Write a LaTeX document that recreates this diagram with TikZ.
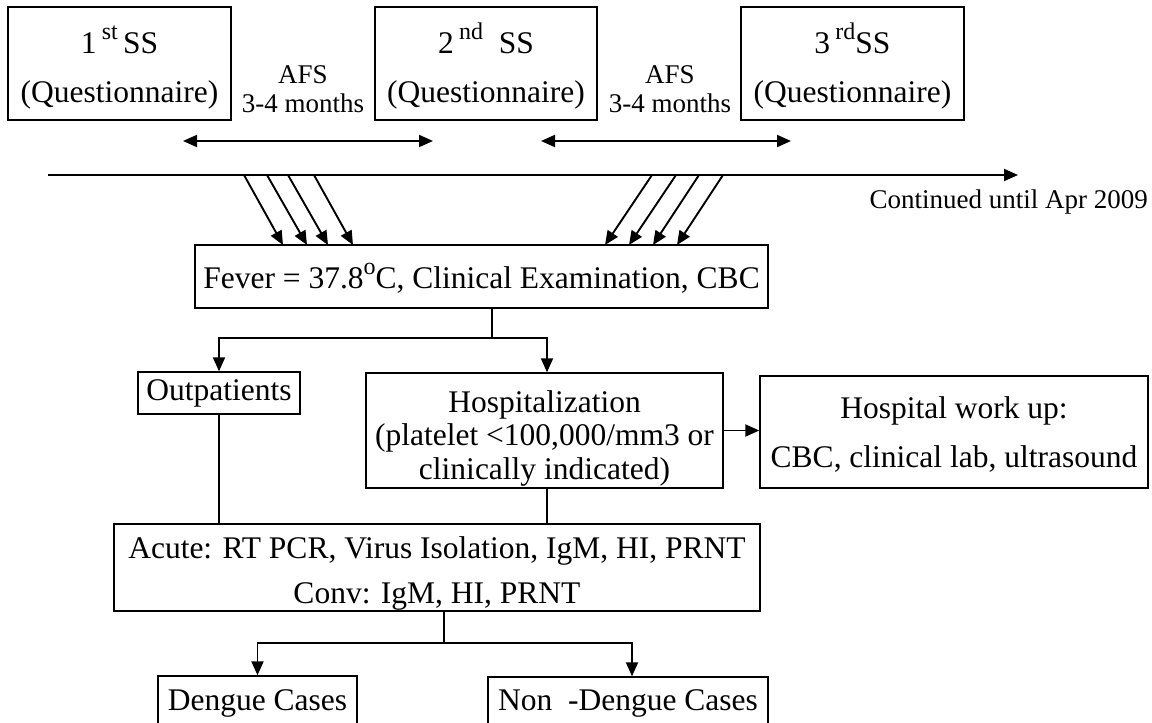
\documentclass[tikz,border=0pt]{standalone}
\usepackage{fontspec}
\setmainfont{Liberation Serif}
\usetikzlibrary{arrows.meta}
\newcommand\mysup[1]{\raisebox{14pt}{\fontsize{24}{24}\selectfont #1}}
\newcommand\tightlines{\lineskiplimit-100pt\relax}
\newcommand\strutHD[2]{\rule[-#2]{0pt}{\dimexpr#1+#2\relax}}
\begin{document}
\begin{tikzpicture}[x=1pt,y=-1pt,
  box/.style={draw,line width=1.4pt,align=center,inner sep=0pt,font=\fontsize{31.5}{49}\selectfont\tightlines},
  lab/.style={inner sep=0pt,font=\fontsize{27}{27}\selectfont},
  arr/.style={line width=1.9pt,-{Triangle[length=14pt,width=12pt]}},
  darr/.style={line width=1.9pt,{Triangle[length=14pt,width=12pt]}-{Triangle[length=14pt,width=12pt]}},
  ln/.style={line width=1.4pt}]
\useasboundingbox (0,0) rectangle (1152,723);
% top boxes
\node[box,minimum width=223pt,minimum height=113pt] (ss1) at (119.5,63.5) {\strutHD{36pt}{0pt}1\,\mysup{st}\,SS\\(Questionnaire)\strutHD{0pt}{8pt}};
\node[box,minimum width=222pt,minimum height=113pt] (ss2) at (486,63.5) {\strutHD{36pt}{0pt}2\,\mysup{nd}\ \ SS\\(Questionnaire)\strutHD{0pt}{8pt}};
\node[box,minimum width=223pt,minimum height=113pt] (ss3) at (852.5,63.5) {\strutHD{36pt}{0pt}3\,\mysup{rd}SS\\(Questionnaire)\strutHD{0pt}{8pt}};
\node[lab,anchor=base] (afs1) at (303,83) {AFS};
\node[lab,anchor=base] (mon1) at (303,112) {3-4 months};
\node[lab,anchor=base] (afs2) at (670,83) {AFS};
\node[lab,anchor=base] (mon2) at (670,112) {3-4 months};
% interval arrows
\coordinate (a1l) at (183,141); \coordinate (a1r) at (433,141);
\coordinate (a2l) at (541,141); \coordinate (a2r) at (791,141);
\draw[darr] (a1l) -- (a1r);
\draw[darr] (a2l) -- (a2r);
% timeline
\coordinate (tl0) at (48,175); \coordinate (tl1) at (1018,175);
\draw[arr] (tl0) -- (tl1);
\node[lab,anchor=base east] (cont) at (1148,208) {Continued until Apr 2009};
% fever box
\node[box,minimum width=573pt,minimum height=63pt] (fever) at (481.5,276.5) {\strutHD{28pt}{5pt}Fever = 37.8\mysup{o}C, Clinical Examination, CBC};
% slanted arrows
\foreach \sx/\ex [count=\i] in {244/283,267/307,288/328,314/353,652/605,676/629,699/653,723/677}{
  \coordinate (s\i) at (\sx,175);
  \coordinate (e\i) at (\ex,245);
  \draw[arr] (s\i) -- (e\i);
}
% second level
\node[box,minimum width=162pt,minimum height=42pt] (outp) at (219,393) {\strutHD{22pt}{8pt}Outpatients};
\node[box,minimum width=357pt,minimum height=115pt,font=\fontsize{31.5}{33.5}\selectfont\tightlines] (hosp) at (544.5,430.5) {\strutHD{38pt}{0pt}Hospitalization\\(platelet <100,000/mm3 or\\clinically indicated)\strutHD{0pt}{8pt}};
\node[box,minimum width=388pt,minimum height=112pt] (work) at (954,432) {\strutHD{27pt}{0pt}Hospital work up:\\CBC, clinical lab, ultrasound\strutHD{0pt}{6pt}};
\coordinate (j1) at (492,338);
\draw[ln] (fever.south -| j1) -- (j1);
\draw[arr] (j1) -| (outp.north);
\draw[arr] (j1) -| ([xshift=2.5pt]hosp.north);
\draw[arr] (hosp.east) -- (hosp.east -| work.west);
% acute box
\node[box,minimum width=646pt,minimum height=87pt,font=\fontsize{31.5}{45}\selectfont\tightlines] (acute) at (437,567.5) {\strutHD{33pt}{0pt}Acute: RT PCR, Virus Isolation, IgM, HI, PRNT\\Conv: IgM, HI, PRNT\strutHD{0pt}{7pt}};
\draw[ln] (outp.south) -- (outp.south |- acute.north);
\draw[ln] ([xshift=2.5pt]hosp.south) -- ([xshift=2.5pt]hosp.south |- acute.north);
% results
\node[box,minimum width=199pt,minimum height=52pt] (deng) at (257.5,702) {\strutHD{24pt}{8pt}Dengue Cases};
\node[box,minimum width=280pt,minimum height=51pt] (nondeng) at (628,702.5) {\strutHD{23pt}{8pt}Non\ \ -Dengue Cases};
\coordinate (j2) at (444,643);
\draw[ln] (acute.south -| j2) -- (j2);
\draw[arr] (j2) -| (deng.north);
\draw[arr] (j2) -| ([xshift=4pt]nondeng.north);
\end{tikzpicture}
\end{document}
